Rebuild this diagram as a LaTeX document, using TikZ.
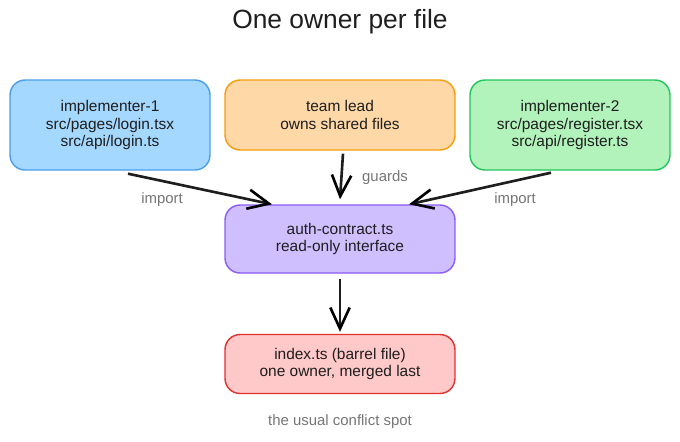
\documentclass[tikz,border=0pt]{standalone}
\usepackage{fontspec}
\setmainfont{Liberation Sans}
\usetikzlibrary{arrows.meta}

\definecolor{ink}{HTML}{1E1E1E}
\definecolor{labelgray}{HTML}{757575}
\definecolor{blueFill}{HTML}{A5D8FF}
\definecolor{blueLine}{HTML}{4A9EED}
\definecolor{orangeFill}{HTML}{FFD8A8}
\definecolor{orangeLine}{HTML}{F59E0B}
\definecolor{greenFill}{HTML}{B2F2BB}
\definecolor{greenLine}{HTML}{22C55E}
\definecolor{purpleFill}{HTML}{D0BFFF}
\definecolor{purpleLine}{HTML}{8B5CF6}
\definecolor{redFill}{HTML}{FFC9C9}
\definecolor{redLine}{HTML}{E03131}

\begin{document}
\begin{tikzpicture}[x=0.02cm,y=-0.02cm]
\useasboundingbox (0,0) rectangle (680,441);

\node[text=ink, font=\fontsize{15}{17}\selectfont] (title) at (340,22) {One owner per file};

\begin{scope}[every node/.style={rectangle,rounded corners=0.3cm,draw,line width=0.8pt,
              align=center,text=ink,font=\fontsize{8.8}{9.8}\selectfont}]
    \node[fill=blueFill, draw=blueLine, minimum width=4cm, minimum height=1.8cm] (implementer_1) at (110,125) {implementer-1\\src/pages/login.tsx\\src/api/login.ts};
    \node[fill=orangeFill, draw=orangeLine, minimum width=4.6cm, minimum height=1.4cm] (team_lead) at (340,115) {team lead\\owns shared files};
    \node[fill=greenFill, draw=greenLine, minimum width=4cm, minimum height=1.8cm] (implementer_2) at (570,125) {implementer-2\\src/pages/register.tsx\\src/api/register.ts};
    \node[fill=purpleFill, draw=purpleLine, minimum width=4.6cm, minimum height=1.36cm] (auth_contract) at (340,239) {auth-contract.ts\\read-only interface};
    \node[fill=redFill, draw=redLine, minimum width=4.6cm, minimum height=1.18cm] (index_ts) at (340,364) {index.ts (barrel file)\\one owner, merged last};
\end{scope}

\begin{scope}[every node/.style={text=labelgray,font=\fontsize{8.5}{10}\selectfont}]
    \node (import_1) at (162,200) {import};
    \node (guards) at (385,178) {guards};
    \node (import_2) at (515,200) {import};
    \node (conflict_spot) at (340,422) {the usual conflict spot};
\end{scope}

\begin{scope}[>={Straight Barb[black,length=12pt,width=11pt]},
              every edge/.style={draw=ink,line width=1.5pt}]
    \path [->] ([xshift=0.36cm,yshift=-0.06cm]implementer_1.south) edge ([xshift=-1.36cm]auth_contract.north);
    \path [->] ([xshift=0.06cm,yshift=-0.06cm]team_lead.south) edge ([yshift=0.1cm]auth_contract.north);
    \path [->] ([xshift=-0.38cm,yshift=-0.04cm]implementer_2.south) edge ([xshift=1.38cm]auth_contract.north);
    \path [->] ([yshift=-0.1cm]auth_contract.south) edge ([yshift=0.04cm]index_ts.north);
\end{scope}
\end{tikzpicture}
\end{document}
